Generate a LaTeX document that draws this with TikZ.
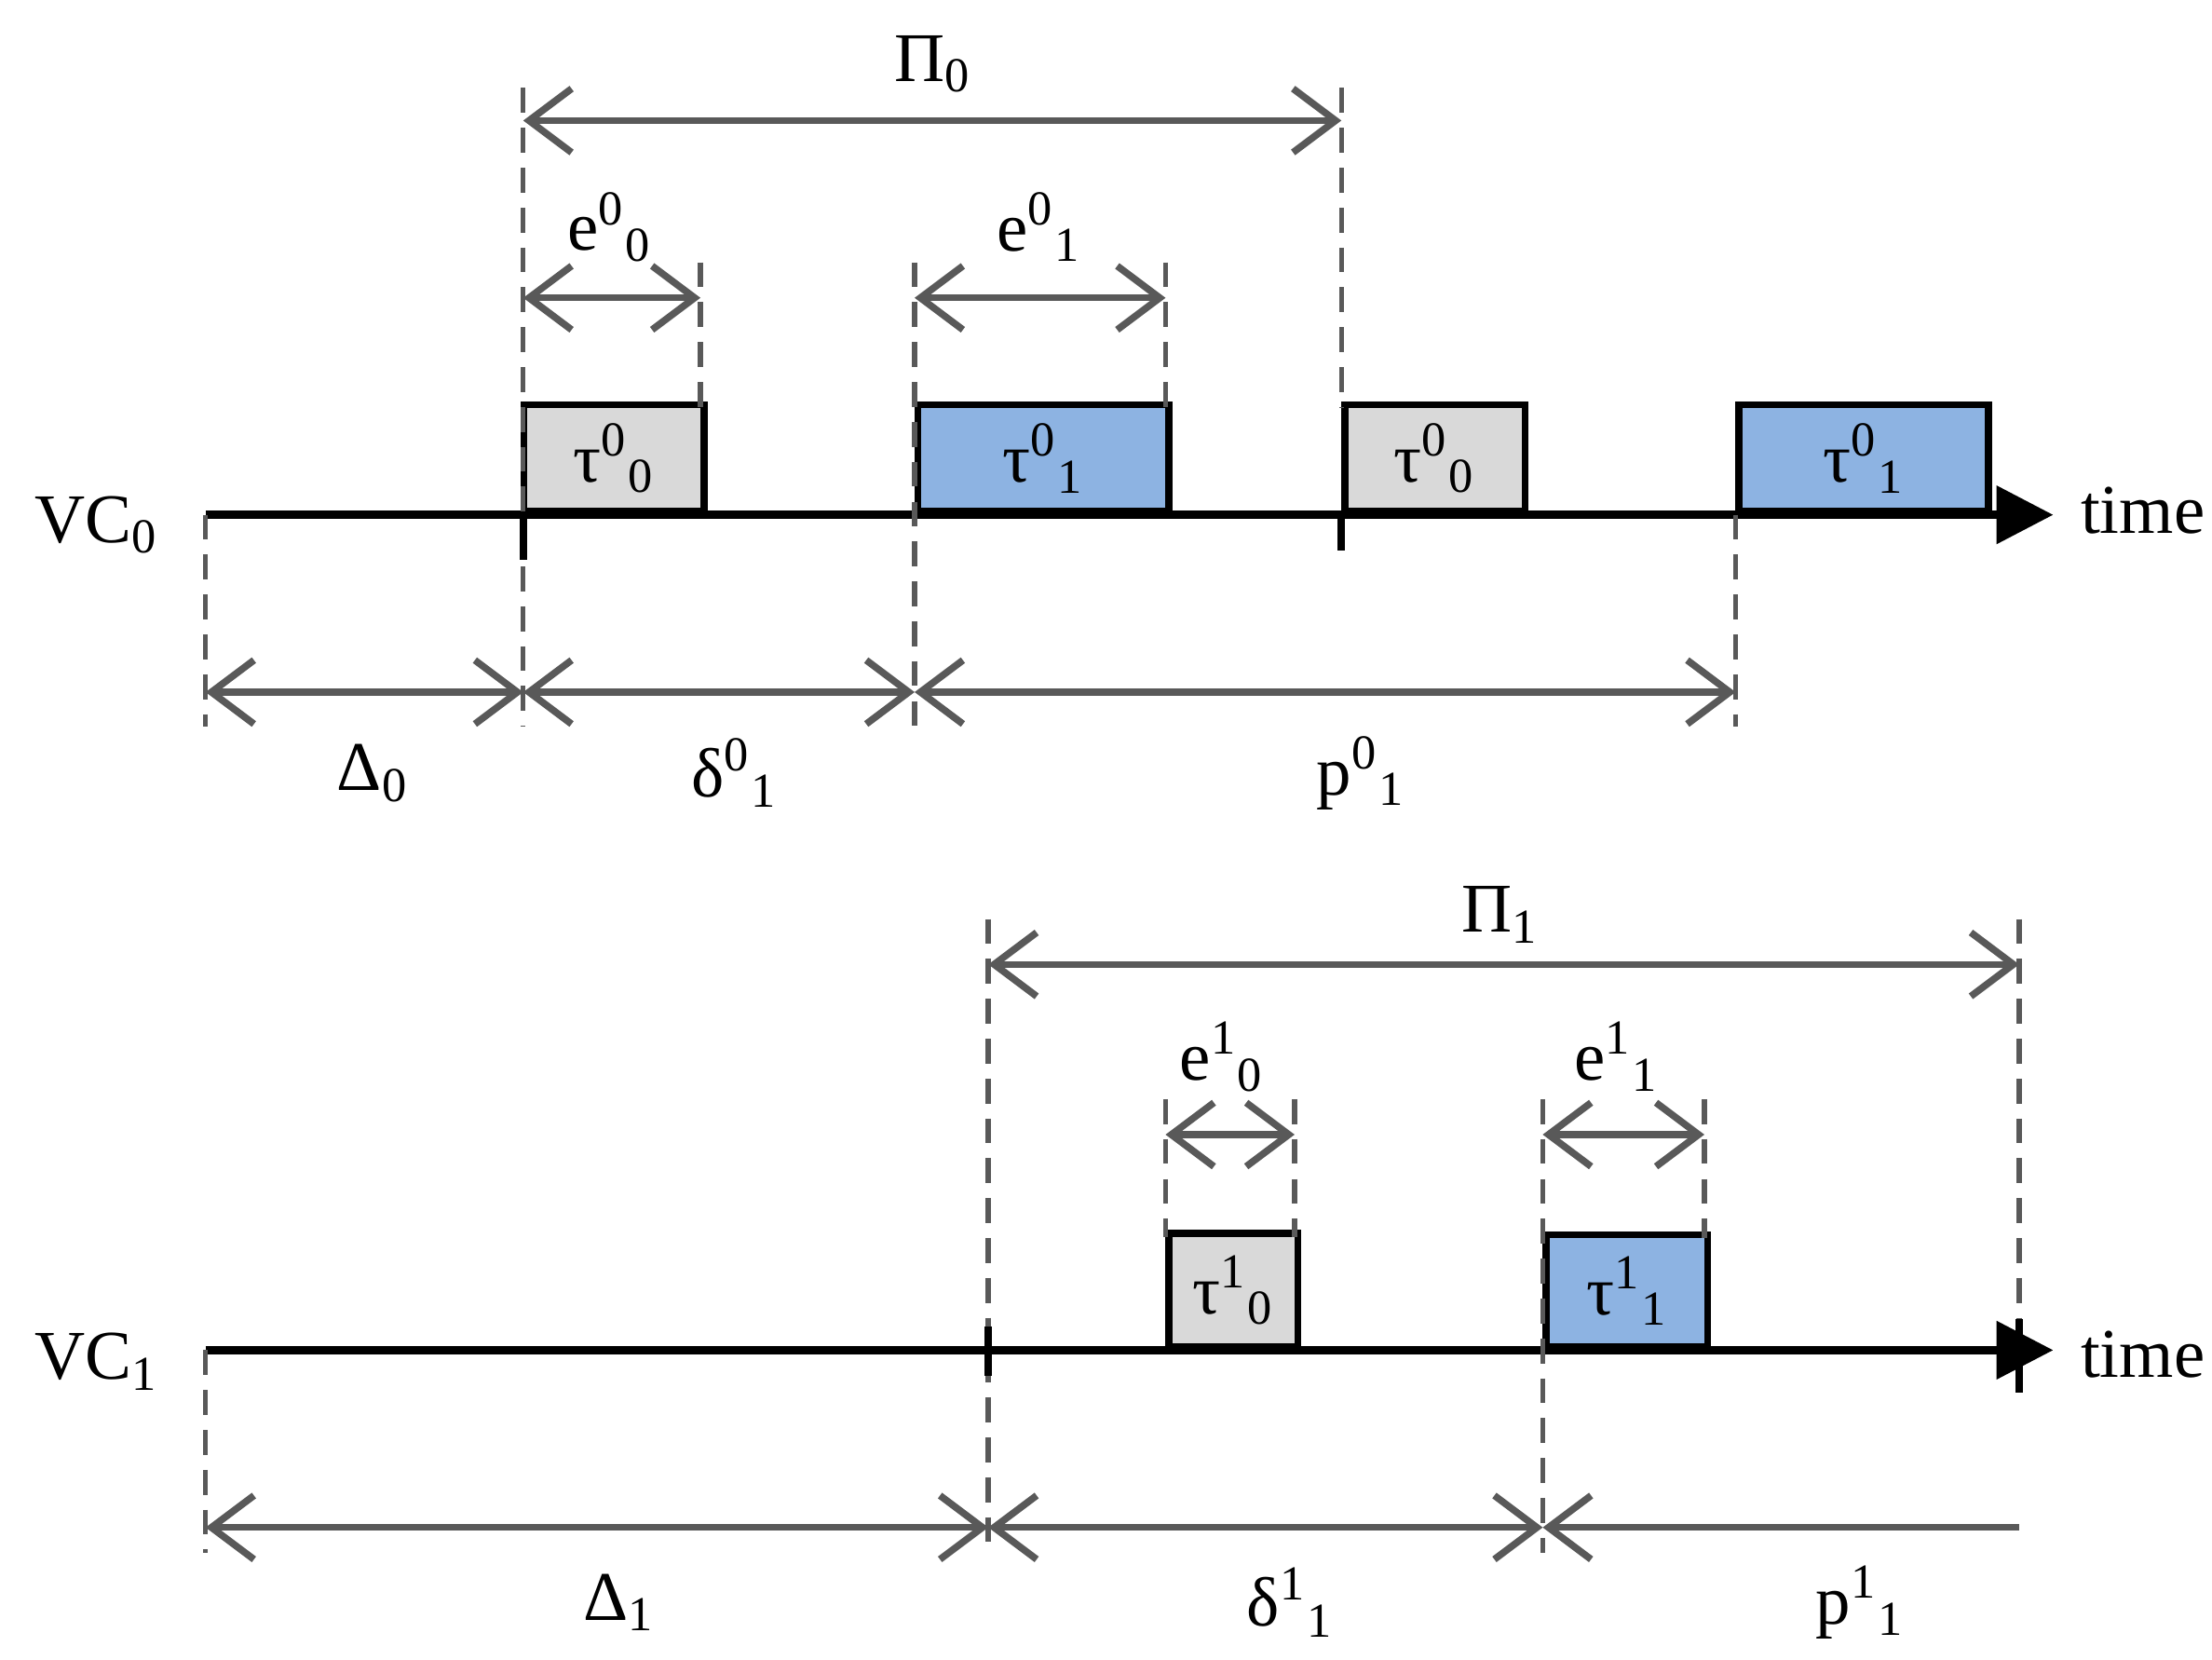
\documentclass[tikz,border=0pt]{standalone}
\usepackage{fontspec}
\setmainfont{Liberation Serif}
\usetikzlibrary{arrows.meta}
\definecolor{dim}{HTML}{595959}
\definecolor{boxgray}{HTML}{D9D9D9}
\definecolor{boxblue}{HTML}{8DB3E2}
\begin{document}
\begin{tikzpicture}[x=0.1mm,y=-0.1mm,
  lbl/.style={font=\fontsize{14}{16}\selectfont},
  dim/.style={draw=dim,line width=1.4pt,{Straight Barb[length=3mm,width=4.5mm]}-{Straight Barb[length=3mm,width=4.5mm]}},
  dimL/.style={draw=dim,line width=1.4pt,{Straight Barb[length=3mm,width=4.5mm]}-},
  dsh/.style={draw=dim,line width=1pt,dash pattern=on 5pt off 3pt},
  axis/.style={line width=1.6pt,-{Triangle[length=4mm,width=4mm]}},
  task/.style={draw,line width=1.4pt,inner sep=0pt,anchor=south west}]
\useasboundingbox (0,0) rectangle (1560,1170);
% top
\coordinate (a0) at (145,363); \coordinate (a1) at (1448,363);
\draw[axis] (a0) -- (a1);
\node[lbl,anchor=west] (t0) at (1455,360) {time};
\node[lbl] (vc0) at (68,370) {VC\textsubscript{0}};
\node[task,fill=boxgray,minimum width=12.7mm,minimum height=7.5mm] (b1) at (367,363) {};
\node[lbl] at (b1) {τ\textsuperscript{0}\textsubscript{0}};
\node[task,fill=boxblue,minimum width=17.7mm,minimum height=7.5mm] (b2) at (645,363) {};
\node[lbl] at (b2) {τ\textsuperscript{0}\textsubscript{1}};
\node[task,fill=boxgray,minimum width=12.7mm,minimum height=7.5mm] (b3) at (946,363) {};
\node[lbl] at (b3) {τ\textsuperscript{0}\textsubscript{0}};
\node[task,fill=boxblue,minimum width=17.6mm,minimum height=7.5mm] (b4) at (1224,363) {};
\node[lbl] at (b4) {τ\textsuperscript{0}\textsubscript{1}};
\draw[dsh] (145,363) -- (145,512);
\draw[dsh] (369,62) -- (369,512);
\draw[dsh] (494,185) -- (494,288);
\draw[dsh] (645,185) -- (645,512);
\draw[dsh] (822,185) -- (822,288);
\draw[dsh] (946,62) -- (946,288);
\draw[line width=1.4pt] (946,363) -- (946,388);
\draw[line width=1.4pt] (369,363) -- (369,395);
\draw[dsh] (1224,363) -- (1224,512);
\draw[dim] (369,85) -- (946,85);
\node[lbl] at (658,45) {Π\textsubscript{0}};
\draw[dim] (369,210) -- (494,210);
\node[lbl] at (430,160) {e\textsuperscript{0}\textsubscript{0}};
\draw[dim] (645,210) -- (822,210);
\node[lbl] at (733,160) {e\textsuperscript{0}\textsubscript{1}};
\draw[dim] (145,488) -- (369,488);
\draw[dim] (369,488) -- (645,488);
\draw[dim] (645,488) -- (1224,488);
\node[lbl] at (263,545) {Δ\textsubscript{0}};
\node[lbl] at (518,545) {δ\textsuperscript{0}\textsubscript{1}};
\node[lbl] at (960,545) {p\textsuperscript{0}\textsubscript{1}};
% bottom
\coordinate (c0) at (145,952); \coordinate (c1) at (1448,952);
\draw[axis] (c0) -- (c1);
\node[lbl,anchor=west] (t1) at (1455,955) {time};
\node[lbl] (vc1) at (68,960) {VC\textsubscript{1}};
\node[task,fill=boxgray,minimum width=9.1mm,minimum height=8mm] (d1) at (822,952) {};
\node[lbl] at (d1) {τ\textsuperscript{1}\textsubscript{0}};
\node[task,fill=boxblue,minimum width=11.4mm,minimum height=7.9mm] (d2) at (1088,952) {};
\node[lbl] at (d2) {τ\textsuperscript{1}\textsubscript{1}};
\draw[dsh] (145,952) -- (145,1095);
\draw[dsh] (697,648) -- (697,1095);
\draw[dsh] (822,775) -- (822,872);
\draw[dsh] (913,775) -- (913,872);
\draw[dsh] (1088,775) -- (1088,1095);
\draw[dsh] (1202,775) -- (1202,873);
\draw[dsh] (1424,648) -- (1424,930);
\draw[line width=1.6pt] (1424,930) -- (1424,982);
\draw[line width=1.4pt] (697,935) -- (697,970);
\draw[dim] (697,680) -- (1424,680);
\node[lbl] at (1058,645) {Π\textsubscript{1}};
\draw[dim] (822,800) -- (913,800);
\node[lbl] at (862,745) {e\textsuperscript{1}\textsubscript{0}};
\draw[dim] (1088,800) -- (1202,800);
\node[lbl] at (1140,745) {e\textsuperscript{1}\textsubscript{1}};
\draw[dim] (145,1077) -- (697,1077);
\draw[dim] (697,1077) -- (1088,1077);
\draw[dimL] (1088,1077) -- (1424,1077);
\node[lbl] at (437,1130) {Δ\textsubscript{1}};
\node[lbl] at (910,1130) {δ\textsuperscript{1}\textsubscript{1}};
\node[lbl] at (1312,1130) {p\textsuperscript{1}\textsubscript{1}};
\end{tikzpicture}
\end{document}
